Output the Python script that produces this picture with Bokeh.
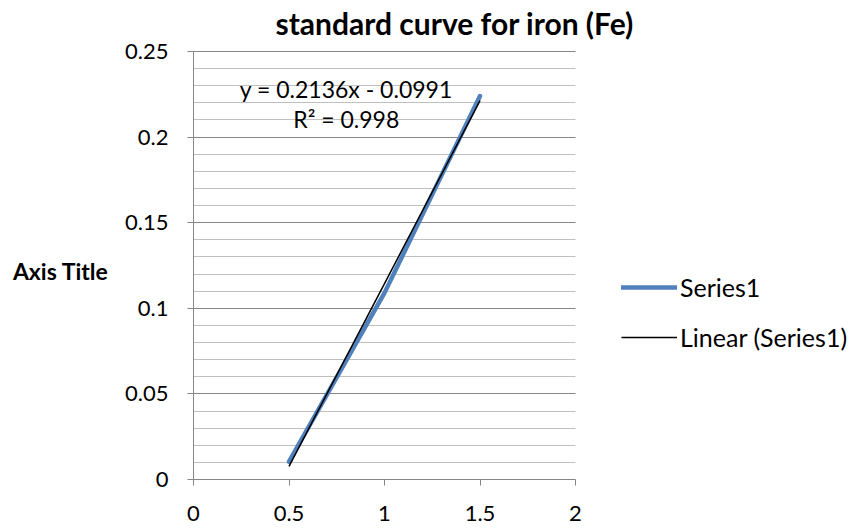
import numpy as np
from bokeh.plotting import figure
from bokeh.models import (Label, Legend, LegendItem, FixedTicker, Range1d,
                          BoxAnnotation, LinearAxis)
from bokeh.embed import file_html
from bokeh.resources import INLINE

# ---- data ----
x_values = [0.5, 1.0, 1.5]
y_values = [0.0104, 0.109, 0.224]
x_ticks = [0, 0.5, 1, 1.5, 2]
x_tick_labels = ["0", "0.5", "1", "1.5", "2"]
y_ticks = [0, 0.05, 0.1, 0.15, 0.2, 0.25]
y_tick_labels = ["0", "0.05", "0.1", "0.15", "0.2", "0.25"]
y_minor_ticks = [0.01, 0.02, 0.03, 0.04, 0.06, 0.07, 0.08, 0.09,
                 0.11, 0.12, 0.13, 0.14, 0.16, 0.17, 0.18, 0.19,
                 0.21, 0.22, 0.23, 0.24]
title_text = "standard curve for iron (Fe)"
y_axis_title = "Axis Title"
series_name = "Series1"
trend_name = "Linear (Series1)"

FONT = "Lato"
GRAY = "#868686"
FS = "22px"

# linear trendline from the data
xa = np.array(x_values)
ya = np.array(y_values)
slope, intercept = np.polyfit(xa, ya, 1)
fit = slope * xa + intercept
r2 = 1 - np.sum((ya - fit) ** 2) / np.sum((ya - ya.mean()) ** 2)
sign = "-" if intercept < 0 else "+"
eq_text = f"y = {slope:.4f}x {sign} {abs(intercept):.4f}"
r2_text = f"R² = {r2:.3f}"

# frame spans plot area + legend area + title area; axes are bounded
X_MAX = x_ticks[-1]
Y_MAX = y_ticks[-1]
x_end = X_MAX * (849 - 193) / (575 - 193)
y_end = Y_MAX * 479 / (479 - 51)

p = figure(width=849, height=532, output_backend="svg", toolbar_location=None,
           x_range=Range1d(0, x_end), y_range=Range1d(0, y_end),
           min_border_left=193, min_border_right=0,
           min_border_top=0, min_border_bottom=53)
p.outline_line_color = None
p.background_fill_color = "white"
p.border_fill_color = "white"

# axes
p.xaxis.ticker = FixedTicker(ticks=x_ticks)
p.yaxis.ticker = FixedTicker(ticks=y_ticks, minor_ticks=y_minor_ticks)
p.xaxis.major_label_overrides = {t: l for t, l in zip(x_ticks, x_tick_labels)}
p.yaxis.major_label_overrides = {t: l for t, l in zip(y_ticks, y_tick_labels)}
p.xaxis.bounds = (0, X_MAX)
p.yaxis.bounds = (0, Y_MAX)
for ax in (p.xaxis, p.yaxis):
    ax.axis_line_color = GRAY
    ax.major_tick_line_color = GRAY
    ax.major_tick_in = 0
    ax.major_tick_out = 6
    ax.minor_tick_line_color = None
    ax.major_label_text_font = FONT
    ax.major_label_text_font_size = FS
    ax.major_label_text_color = "black"
p.xaxis.major_label_standoff = 20
p.yaxis.major_label_standoff = 19

# horizontal y-axis title, drawn as the single label of an outer left axis
title_pos = (479 - 270) / (479 - 51) * Y_MAX
title_axis = LinearAxis(ticker=FixedTicker(ticks=[title_pos]),
                        major_label_overrides={title_pos: y_axis_title},
                        axis_line_color=None, major_tick_line_color=None,
                        minor_tick_line_color=None,
                        major_label_standoff=8,
                        major_label_text_font=FONT,
                        major_label_text_font_style="bold",
                        major_label_text_font_size="23px",
                        major_label_text_color="black")
p.add_layout(title_axis, "left")

# grid
p.xgrid.grid_line_color = None
p.ygrid.ticker = FixedTicker(ticks=y_ticks, minor_ticks=y_minor_ticks)
p.ygrid.grid_line_color = GRAY
p.ygrid.minor_grid_line_color = "#C0C0C0"
try:
    p.ygrid.cross_bounds = (0, X_MAX)
except Exception:
    p.add_layout(BoxAnnotation(left=X_MAX, fill_color="white", fill_alpha=1,
                               line_color=None, level="underlay"))

# series
r_series = p.line(x_values, y_values, line_color="#4F81BD", line_width=4.5,
                  line_cap="round", line_join="round")
r_trend = p.line(x_values, list(fit), line_color="black", line_width=1.5)

# legend
legend = Legend(items=[LegendItem(label=series_name, renderers=[r_series]),
                       LegendItem(label=trend_name, renderers=[r_trend])],
                location=(621 - 193, 479 - 352), orientation="vertical",
                glyph_width=56, glyph_height=20, label_standoff=3,
                spacing=20, padding=0, margin=0,
                label_text_font=FONT, label_text_font_size="25px",
                label_text_color="black",
                border_line_color=None, background_fill_alpha=0)
p.add_layout(legend, "center")

# trendline equation
p.add_layout(Label(x=0.80, y=0.228, text=eq_text, text_align="center",
                   text_baseline="middle", text_font=FONT, text_font_size="23px",
                   text_color="black"))
p.add_layout(Label(x=0.80, y=0.2105, text=r2_text, text_align="center",
                   text_baseline="middle", text_font=FONT, text_font_size="23px",
                   text_color="black"))

# chart title (screen units relative to the frame's bottom-left)
p.add_layout(Label(x=275 - 193, y=479 - 22, x_units="screen", y_units="screen",
                   text=title_text, text_align="left", text_baseline="alphabetic",
                   text_font=FONT, text_font_style="bold", text_font_size="30px",
                   text_color="black"))

open("out.html", "w").write(file_html(p, INLINE))
